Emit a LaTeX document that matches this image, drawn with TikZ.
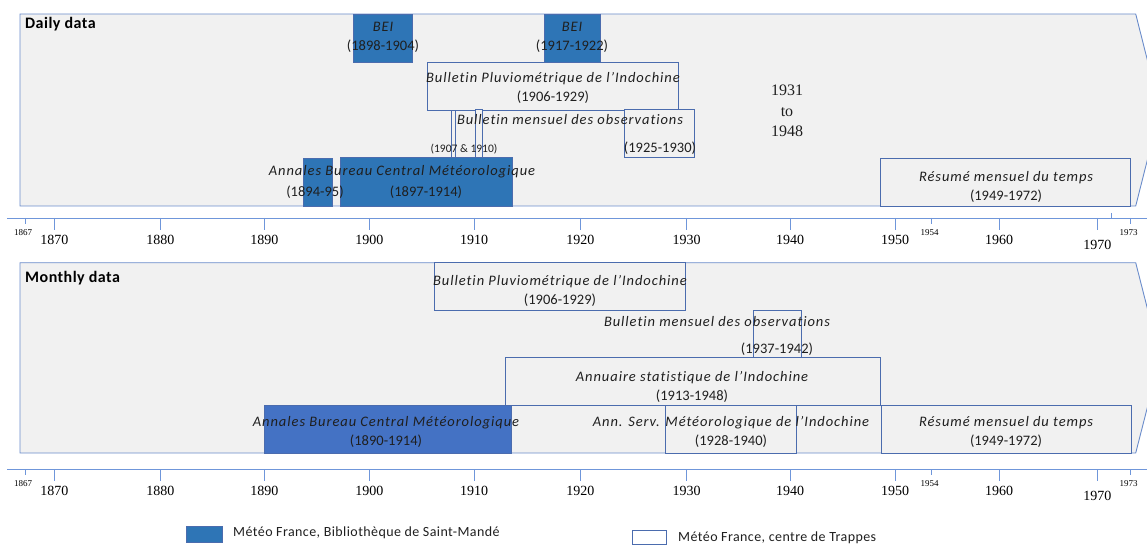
\documentclass[tikz,border=0pt]{standalone}
\usepackage{fontspec}
\setmainfont{Carlito}[Ligatures=NoCommon,RawFeature={-liga}]
\newfontfamily\yearfont{Liberation Serif}
\newcommand\srctitle[1]{{\itshape\addfontfeatures{LetterSpace=6.5}#1}}

\definecolor{panelfill}{HTML}{F1F1F1}
\definecolor{panelline}{HTML}{6A8CCB}
\definecolor{boxline}{HTML}{4B6CAE}
\definecolor{bibblue}{HTML}{2E75B6}
\definecolor{bibblueb}{HTML}{4472C4}
\definecolor{axisblue}{HTML}{6F96DA}
\definecolor{labeltext}{HTML}{1F1F1F}

\begin{document}
\begin{tikzpicture}[x=1pt,y=-1pt,
    panel/.style={draw=panelline,fill=panelfill,line width=0.9pt},
    bibbox/.style={draw=boxline,fill=bibblue,line width=0.8pt},
    trapbox/.style={draw=boxline,fill=panelfill,line width=0.8pt},
    lbl/.style={align=center,inner sep=0pt,text=labeltext,
      font=\fontsize{14.5}{19}\selectfont},
    paneltitle/.style={anchor=west,inner sep=0pt,
      font=\fontsize{16}{18}\selectfont\bfseries\addfontfeatures{LetterSpace=3}},
    yearlbl/.style={inner sep=0pt,font=\yearfont\fontsize{14}{16}\selectfont},
    smallyear/.style={inner sep=0pt,font=\yearfont\fontsize{9}{11}\selectfont},
    tickline/.style={draw=axisblue,line width=0.8pt},
    legtext/.style={anchor=west,inner sep=0pt,text=labeltext,
      font=\fontsize{14}{15}\selectfont\addfontfeatures{LetterSpace=3}}]
  \useasboundingbox (0,0) rectangle (1147,545);

  % Daily data
  \draw[panel] (20,14) -- (1135.7,14) -- (1160,110) -- (1135.7,206) -- (20,206) -- cycle;
  \node[paneltitle] (dailytitle) at (25,24) {Daily data};
  \draw[bibbox] (353.3,14) rectangle (412.3,62);
  \draw[bibbox] (544,14) rectangle (600.3,62);
  \draw[trapbox] (427.7,62) rectangle (678.3,110);
  \draw[trapbox] (451,110) rectangle (455.3,157);
  \draw[trapbox] (475.3,109) rectangle (482,157);
  \draw[trapbox] (624,109.3) rectangle (694.7,157.3);
  \draw[bibbox] (303.3,158) rectangle (332.3,206);
  \draw[bibbox] (340,157) rectangle (512.7,206);
  \draw[trapbox] (880.7,158.3) rectangle (1130.7,206);

  \node[lbl] (beiA) at (383,37) {\srctitle{BEI}\\(1898-1904)};
  \node[lbl] (beiB) at (572,37.5) {\srctitle{BEI}\\(1917-1922)};
  \node[lbl] (pluvioD) at (553,87.5) {\srctitle{Bulletin Pluviométrique de l’Indochine}\\(1906-1929)};
  \node[lbl] (mensuelD) at (570,120) {\srctitle{Bulletin mensuel des observations}};
  \node[lbl,font=\fontsize{11.5}{13}\selectfont] (mensuelDa) at (464,149) {(1907 \& 1910)};
  \node[lbl] (mensuelDb) at (660,148) {(1925-1930)};
  \node[lbl,font=\yearfont\fontsize{16}{20.5}\selectfont] (gapD) at (787,111) {1931\\to\\1948};
  \node[lbl] (annalesD) at (402,172) {\srctitle{Annales Bureau Central Météorologique}};
  \node[lbl] (annalesDa) at (315,192) {(1894-95)};
  \node[lbl] (annalesDb) at (426,192) {(1897-1914)};
  \node[lbl] (resumeD) at (1006,186.5) {\srctitle{Résumé mensuel du temps}\\(1949-1972)};

  % Monthly data
  \draw[panel] (20,262.7) -- (1135.7,262.7) -- (1160,358) -- (1135.7,453) -- (20,453) -- cycle;
  \node[paneltitle] (monthlytitle) at (25,278) {Monthly data};
  \draw[trapbox] (434.3,262.7) rectangle (685.7,310.7);
  \draw[trapbox] (753.3,310) rectangle (801.7,357.3);
  \draw[trapbox] (505.3,357.3) rectangle (880,405);
  \draw[bibbox,fill=bibblueb] (264.3,405) rectangle (511,453);
  \draw[trapbox] (665.3,405) rectangle (796,453);
  \draw[trapbox] (881.7,405) rectangle (1131.7,453);

  \node[lbl] (pluvioM) at (560,290.5) {\srctitle{Bulletin Pluviométrique de l’Indochine}\\(1906-1929)};
  \node[lbl] (mensuelM) at (717,322) {\srctitle{Bulletin mensuel des observations}};
  \node[lbl] (mensuelMa) at (777,349) {(1937-1942)};
  \node[lbl] (annuaireM) at (692,387) {\srctitle{Annuaire statistique de l’Indochine}\\(1913-1948)};
  \node[lbl] (annalesM) at (386,432) {\srctitle{Annales Bureau Central Météorologique}\\(1890-1914)};
  \node[lbl] (servM) at (731,432) {\srctitle{Ann. Serv. Météorologique de l’Indochine}\\(1928-1940)};
  \node[lbl] (resumeM) at (1006,432) {\srctitle{Résumé mensuel du temps}\\(1949-1972)};

  % time axes
  \foreach \ay/\ly in {218/0,469/251}{
    \draw[tickline] (7,\ay) -- (1147,\ay);
    \foreach \yr/\xx in {1870/54.3,1880/160.3,1890/264.3,1900/369.3,1910/474,
                         1920/580.3,1930/686.7,1940/790,1950/895,1960/999}{
      \draw[tickline] (\xx,\ay) -- (\xx,\ay+12);
      \node[yearlbl] (yr\yr) at (\xx,240+\ly) {\yr};
    }
    \draw[tickline] (1097.3,\ay) -- (1097.3,\ay+12);
    \node[yearlbl] (yr1970) at (1097.3,245+\ly) {1970};
    \foreach \yr/\xx in {1867/25,1954/931.7,1973/1130.7}{
      \draw[tickline] (\xx,\ay) -- (\xx,\ay+6);
      \node[smallyear] (yr\yr) at (\xx-2,233+\ly) {\yr};
    }
  }
  \draw[tickline] (1111.7,213) -- (1111.7,218);

  % legend
  \draw[bibbox] (186,526) rectangle (222,542);
  \node[legtext] (legbib) at (233,533) {Météo France, Bibliothèque de Saint-Mandé};
  \draw[trapbox,fill=white] (632,530) rectangle (666,544.5);
  \node[legtext] (legtrap) at (678,538) {Météo France, centre de Trappes};
\end{tikzpicture}
\end{document}
